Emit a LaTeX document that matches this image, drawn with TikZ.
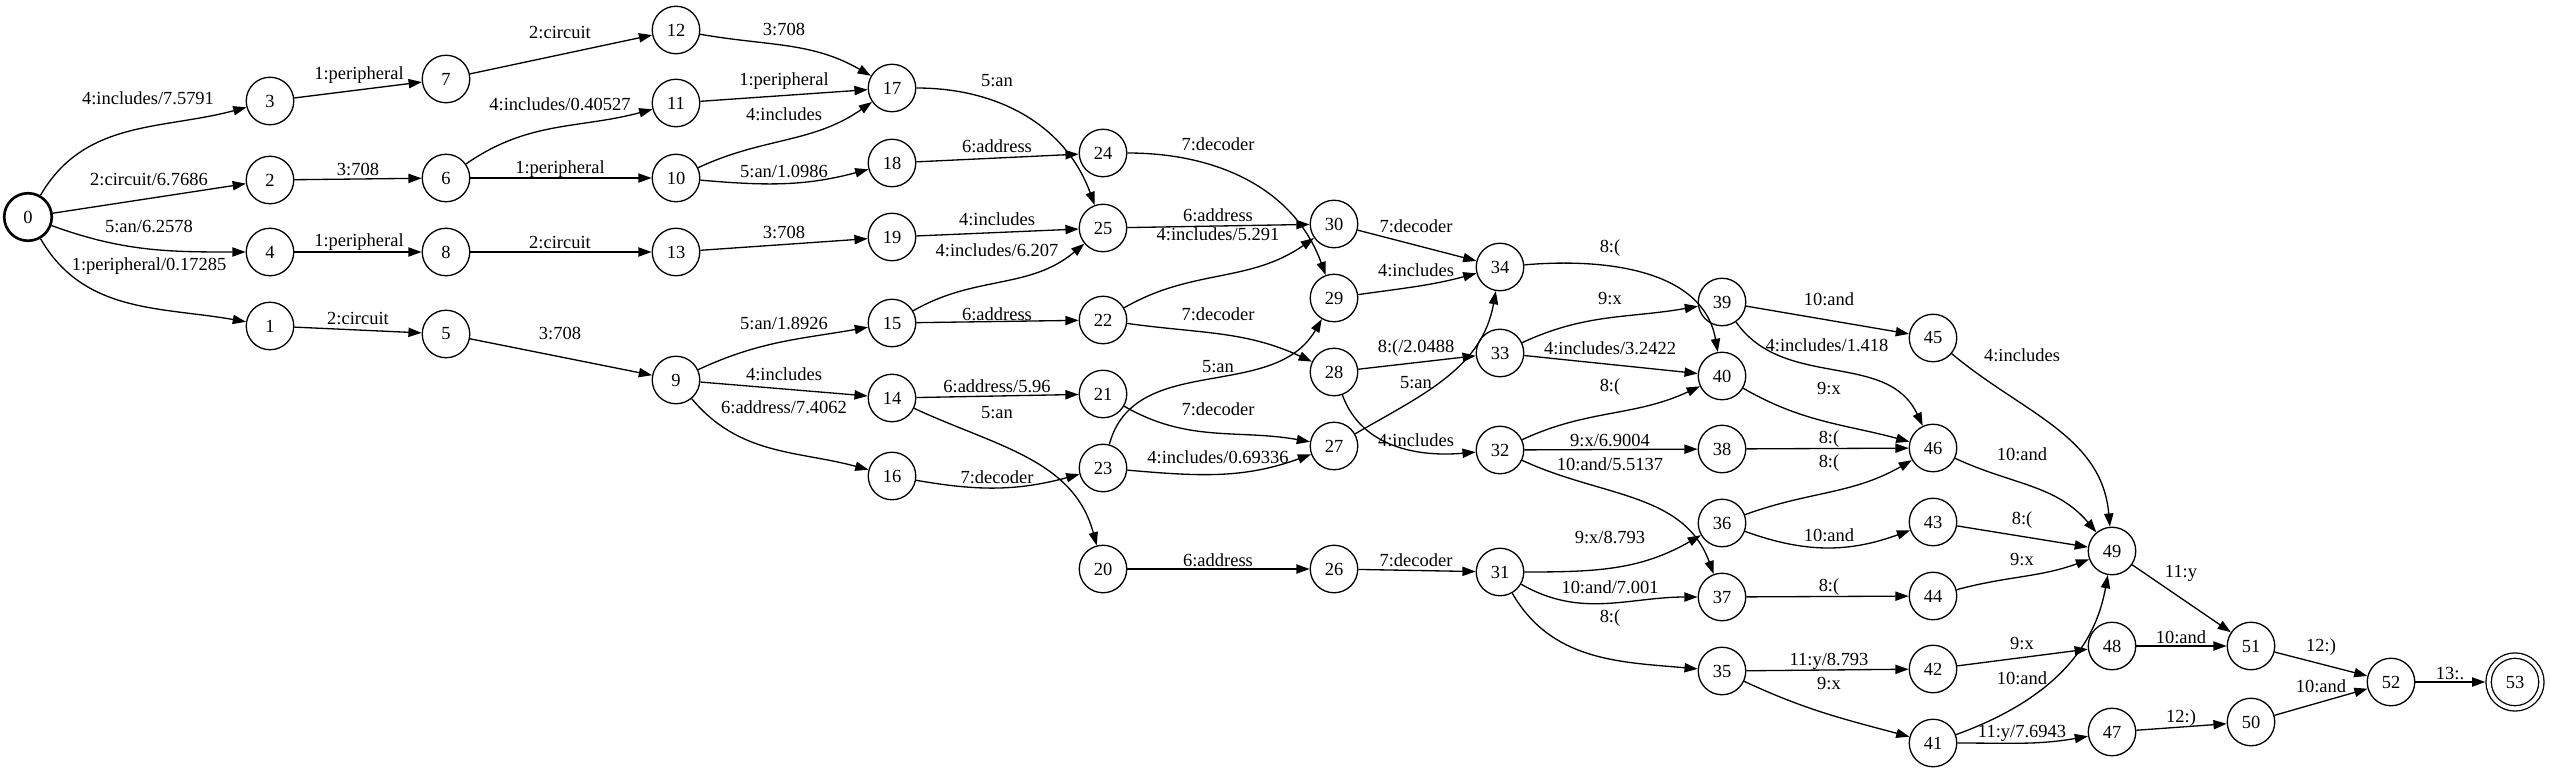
\documentclass[tikz,border=0pt]{standalone}
\usepackage{fontspec}
\setmainfont{Liberation Serif}
\usetikzlibrary{arrows.meta}

\begin{document}
\begin{tikzpicture}[x=0.7576pt,y=0.7576pt]
\tikzset{every node/.style={font=\fontsize{14}{16}\selectfont}}
\tikzset{state/.style={circle,draw,line width=1pt,minimum size=36pt,inner sep=0pt}}
\tikzset{start/.style={state,line width=2pt}}
\tikzset{accept/.style={state,double,double distance=3pt,minimum size=40pt,outer sep=2.5pt}}
\tikzset{edge/.style={-{Triangle[length=10pt,width=7pt]},line width=1pt}}
\tikzset{lbl/.style={inner sep=0pt,text height=9.5pt,text depth=0pt}}

\useasboundingbox (0,0) rectangle (2550,-774);

\node[start] (n0) at (28,-217) {0};
\node[state] (n3) at (270,-101) {3};
\node[state] (n2) at (270,-180) {2};
\node[state] (n4) at (270,-252) {4};
\node[state] (n1) at (270,-326) {1};
\node[state] (n7) at (446,-79) {7};
\node[state] (n6) at (446,-178) {6};
\node[state] (n8) at (446,-252) {8};
\node[state] (n5) at (446,-334) {5};
\node[state] (n12) at (676,-30) {12};
\node[state] (n11) at (676,-103) {11};
\node[state] (n10) at (676,-178) {10};
\node[state] (n13) at (676,-252) {13};
\node[state] (n9) at (676,-380) {9};
\node[state] (n17) at (892,-88) {17};
\node[state] (n18) at (892,-163) {18};
\node[state] (n19) at (892,-237) {19};
\node[state] (n15) at (892,-323) {15};
\node[state] (n14) at (892,-398) {14};
\node[state] (n16) at (892,-476) {16};
\node[state] (n24) at (1103,-153) {24};
\node[state] (n25) at (1103,-228) {25};
\node[state] (n22) at (1103,-320) {22};
\node[state] (n21) at (1103,-394) {21};
\node[state] (n23) at (1103,-468) {23};
\node[state] (n20) at (1103,-569) {20};
\node[state] (n30) at (1334,-224) {30};
\node[state] (n29) at (1334,-298) {29};
\node[state] (n28) at (1334,-372) {28};
\node[state] (n27) at (1334,-446) {27};
\node[state] (n26) at (1334,-569) {26};
\node[state] (n34) at (1500,-267) {34};
\node[state] (n33) at (1500,-353) {33};
\node[state] (n32) at (1500,-450) {32};
\node[state] (n31) at (1500,-572) {31};
\node[state] (n39) at (1722,-302) {39};
\node[state] (n40) at (1722,-376) {40};
\node[state] (n38) at (1722,-449) {38};
\node[state] (n36) at (1722,-523) {36};
\node[state] (n37) at (1722,-597) {37};
\node[state] (n35) at (1722,-671) {35};
\node[state] (n45) at (1933,-338) {45};
\node[state] (n46) at (1933,-448) {46};
\node[state] (n43) at (1933,-522) {43};
\node[state] (n44) at (1933,-596) {44};
\node[state] (n42) at (1933,-669) {42};
\node[state] (n41) at (1933,-743) {41};
\node[state] (n49) at (2112,-551) {49};
\node[state] (n48) at (2112,-646) {48};
\node[state] (n47) at (2112,-732) {47};
\node[state] (n51) at (2251,-646) {51};
\node[state] (n50) at (2251,-722) {50};
\node[state] (n52) at (2391,-682) {52};
\node[accept] (n53) at (2515,-682) {53};

\draw[edge] (n0) to[out=60,in=195] (n3) node[lbl] (e0-3) at (148,-98) {4:includes/7.5791};
\draw[edge] (n0) -- (n2) node[lbl] (e0-2) at (149,-179) {2:circuit/6.7686};
\draw[edge] (n0) to[out=-20,in=180] (n4) node[lbl] (e0-4) at (149,-226) {5:an/6.2578};
\draw[edge] (n0) to[out=-60,in=170] (n1) node[lbl] (e0-1) at (149,-264) {1:peripheral/0.17285};
\draw[edge] (n3) -- (n7) node[lbl] (e3-7) at (359,-73) {1:peripheral};
\draw[edge] (n2) -- (n6) node[lbl] (e2-6) at (358,-169) {3:708};
\draw[edge] (n4) -- (n8) node[lbl] (e4-8) at (359,-240) {1:peripheral};
\draw[edge] (n1) -- (n5) node[lbl] (e1-5) at (358,-318) {2:circuit};
\draw[edge] (n7) -- (n12) node[lbl] (e7-12) at (560,-32) {2:circuit};
\draw[edge] (n6) to[out=35,in=195] (n11) node[lbl] (e6-11) at (560,-104) {4:includes/0.40527};
\draw[edge] (n6) -- (n10) node[lbl] (e6-10) at (560,-167) {1:peripheral};
\draw[edge] (n8) -- (n13) node[lbl] (e8-13) at (560,-242) {2:circuit};
\draw[edge] (n5) -- (n9) node[lbl] (e5-9) at (560,-333) {3:708};
\draw[edge] (n12) to[out=-10,in=150] (n17) node[lbl] (e12-17) at (784,-29) {3:708};
\draw[edge] (n11) -- (n17) node[lbl] (e11-17) at (784,-79) {1:peripheral};
\draw[edge] (n10) to[out=25,in=215] (n17) node[lbl] (e10-17) at (784,-114) {4:includes};
\draw[edge] (n10) to[out=-5,in=195] (n18) node[lbl] (e10-18) at (784,-171) {5:an/1.0986};
\draw[edge] (n13) -- (n19) node[lbl] (e13-19) at (784,-232) {3:708};
\draw[edge] (n9) to[out=25,in=190] (n15) node[lbl] (e9-15) at (784,-323) {5:an/1.8926};
\draw[edge] (n9) -- (n14) node[lbl] (e9-14) at (784,-374) {4:includes};
\draw[edge] (n9) to[out=-50,in=165] (n16) node[lbl] (e9-16) at (784,-407) {6:address/7.4062};
\draw[edge] (n17) to[out=0,in=110] (n25) node[lbl] (e17-25) at (997,-80) {5:an};
\draw[edge] (n18) -- (n24) node[lbl] (e18-24) at (997,-146) {6:address};
\draw[edge] (n19) -- (n25) node[lbl] (e19-25) at (997,-219) {4:includes};
\draw[edge] (n15) to[out=30,in=220] (n25) node[lbl] (e15-25) at (997,-250) {4:includes/6.207};
\draw[edge] (n15) -- (n22) node[lbl] (e15-22) at (997,-314) {6:address};
\draw[edge] (n14) -- (n21) node[lbl] (e14-21) at (997,-386) {6:address/5.96};
\draw[edge] (n14) to[out=-25,in=105] (n20) node[lbl] (e14-20) at (997,-412) {5:an};
\draw[edge] (n16) to[out=-10,in=195] (n23) node[lbl] (e16-23) at (997,-477) {7:decoder};
\draw[edge] (n24) to[out=0,in=110] (n29) node[lbl] (e24-29) at (1218,-144) {7:decoder};
\draw[edge] (n25) -- (n30) node[lbl] (e25-30) at (1218,-215) {6:address};
\draw[edge] (n22) to[out=30,in=215] (n30) node[lbl] (e22-30) at (1218,-234) {4:includes/5.291};
\draw[edge] (n22) to[out=-8,in=155] (n28) node[lbl] (e22-28) at (1218,-314) {7:decoder};
\draw[edge] (n23) to[out=75,in=240] (n29) node[lbl] (e23-29) at (1218,-366) {5:an};
\draw[edge] (n21) to[out=-30,in=170] (n27) node[lbl] (e21-27) at (1218,-409) {7:decoder};
\draw[edge] (n23) to[out=-5,in=200] (n27) node[lbl] (e23-27) at (1218,-457) {4:includes/0.69336};
\draw[edge] (n20) -- (n26) node[lbl] (e20-26) at (1218,-560) {6:address};
\draw[edge] (n30) -- (n34) node[lbl] (e30-34) at (1416,-226) {7:decoder};
\draw[edge] (n29) to[out=8,in=195] (n34) node[lbl] (e29-34) at (1416,-270) {4:includes};
\draw[edge] (n28) -- (n33) node[lbl] (e28-33) at (1416,-346) {8:(/2.0488};
\draw[edge] (n27) to[out=30,in=260] (n34) node[lbl] (e27-34) at (1416,-382) {5:an};
\draw[edge] (n28) to[out=-70,in=185] (n32) node[lbl] (e28-32) at (1416,-440) {4:includes};
\draw[edge] (n26) -- (n31) node[lbl] (e26-31) at (1416,-560) {7:decoder};
\draw[edge] (n34) to[out=5,in=100] (n40) node[lbl] (e34-40) at (1610,-246) {8:(};
\draw[edge] (n33) to[out=25,in=190] (n39) node[lbl] (e33-39) at (1610,-298) {9:x};
\draw[edge] (n33) -- (n40) node[lbl] (e33-40) at (1610,-348) {4:includes/3.2422};
\draw[edge] (n32) to[out=25,in=205] (n40) node[lbl] (e32-40) at (1610,-385) {8:(};
\draw[edge] (n32) -- (n38) node[lbl] (e32-38) at (1610,-440) {9:x/6.9004};
\draw[edge] (n32) to[out=-25,in=110] (n37) node[lbl] (e32-37) at (1610,-464) {10:and/5.5137};
\draw[edge] (n31) to[out=0,in=210] (n36) node[lbl] (e31-36) at (1610,-537) {9:x/8.793};
\draw[edge] (n31) to[out=-30,in=180] (n37) node[lbl] (e31-37) at (1610,-587) {10:and/7.001};
\draw[edge] (n31) to[out=-60,in=175] (n35) node[lbl] (e31-35) at (1610,-616) {8:(};
\draw[edge] (n39) -- (n45) node[lbl] (e39-45) at (1829,-299) {10:and};
\draw[edge] (n39) to[out=-55,in=115] (n46) node[lbl] (e39-46) at (1827,-345) {4:includes/1.418};
\draw[edge] (n40) to[out=-30,in=165] (n46) node[lbl] (e40-46) at (1829,-388) {9:x};
\draw[edge] (n38) -- (n46) node[lbl] (e38-46) at (1829,-437) {8:(};
\draw[edge] (n36) to[out=20,in=210] (n46) node[lbl] (e36-46) at (1829,-461) {8:(};
\draw[edge] (n36) to[out=-20,in=200] (n43) node[lbl] (e36-43) at (1829,-535) {10:and};
\draw[edge] (n37) -- (n44) node[lbl] (e37-44) at (1829,-585) {8:(};
\draw[edge] (n35) -- (n42) node[lbl] (e35-42) at (1829,-659) {11:y/8.793};
\draw[edge] (n35) to[out=-25,in=165] (n41) node[lbl] (e35-41) at (1829,-683) {9:x};
\draw[edge] (n45) to[out=-40,in=95] (n49) node[lbl] (e45-49) at (2022,-355) {4:includes};
\draw[edge] (n46) to[out=-25,in=130] (n49) node[lbl] (e46-49) at (2022,-454) {10:and};
\draw[edge] (n43) -- (n49) node[lbl] (e43-49) at (2022,-518) {8:(};
\draw[edge] (n44) to[out=15,in=200] (n49) node[lbl] (e44-49) at (2022,-559) {9:x};
\draw[edge] (n42) -- (n48) node[lbl] (e42-48) at (2022,-643) {9:x};
\draw[edge] (n41) to[out=20,in=260] (n49) node[lbl] (e41-49) at (2022,-678) {10:and};
\draw[edge] (n41) to[out=0,in=190] (n47) node[lbl] (e41-47) at (2022,-731) {11:y/7.6943};
\draw[edge] (n49) -- (n51) node[lbl] (e49-51) at (2181,-571) {11:y};
\draw[edge] (n48) -- (n51) node[lbl] (e48-51) at (2181,-637) {10:and};
\draw[edge] (n47) -- (n50) node[lbl] (e47-50) at (2181,-716) {12:)};
\draw[edge] (n51) -- (n52) node[lbl] (e51-52) at (2321,-645) {12:)};
\draw[edge] (n50) -- (n52) node[lbl] (e50-52) at (2321,-686) {10:and};
\draw[edge] (n52) -- (n53) node[lbl] (e52-53) at (2450,-673) {13:.};

\end{tikzpicture}
\end{document}
